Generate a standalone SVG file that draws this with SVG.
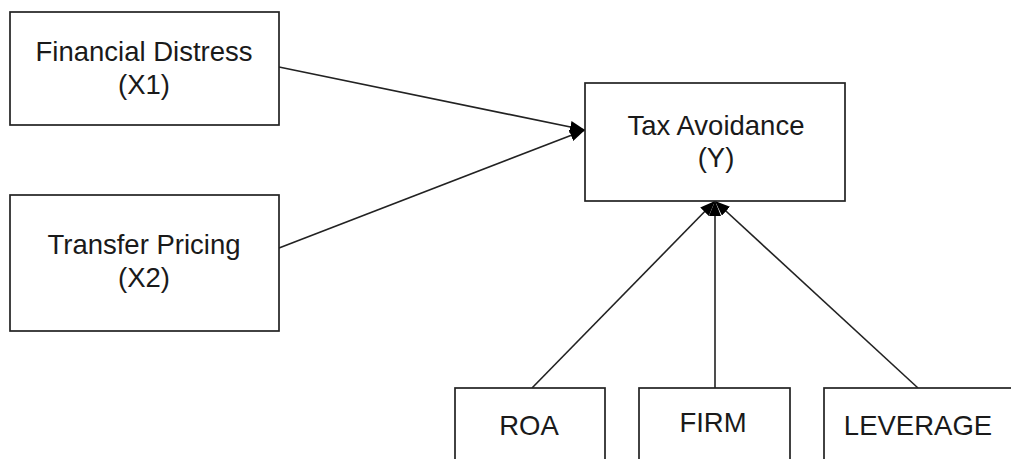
<svg xmlns="http://www.w3.org/2000/svg" width="1011" height="459" viewBox="0 0 1011 459">
<style>
.box{fill:#fff;stroke:#222;stroke-width:1.7}
.lbl{font-family:"Liberation Sans",Arial,sans-serif;font-size:27.5px;fill:#1a1a1a;text-anchor:middle}
.con{stroke:#222;stroke-width:1.6;fill:none}
</style>
<defs>
<marker id="arr" viewBox="0 0 15 12" refX="15" refY="6" markerWidth="15" markerHeight="12" markerUnits="userSpaceOnUse" orient="auto">
<path d="M0,0 L15,6 L0,12 z" fill="#000"/>
</marker>
</defs>
<rect width="1011" height="459" fill="#fff"/>
<g id="connectors">
<line class="con" x1="279" y1="67" x2="585" y2="130" marker-end="url(#arr)"/>
<line class="con" x1="279" y1="248" x2="585" y2="130" marker-end="url(#arr)"/>
<line class="con" x1="532" y1="388" x2="715" y2="201" marker-end="url(#arr)"/>
<line class="con" x1="715" y1="388" x2="715" y2="201" marker-end="url(#arr)"/>
<line class="con" x1="918" y1="388" x2="715" y2="201" marker-end="url(#arr)"/>
</g>
<g id="node-x1">
<rect class="box" x="10" y="12" width="269" height="113"/>
<text class="lbl" x="144" y="61">Financial Distress</text>
<text class="lbl" x="144" y="94">(X1)</text>
</g>
<g id="node-x2">
<rect class="box" x="10" y="195" width="269" height="136"/>
<text class="lbl" x="144" y="254">Transfer Pricing</text>
<text class="lbl" x="144" y="287">(X2)</text>
</g>
<g id="node-y">
<rect class="box" x="585" y="83" width="260" height="118"/>
<text class="lbl" x="716" y="135">Tax Avoidance</text>
<text class="lbl" x="716" y="167">(Y)</text>
</g>
<g id="node-roa">
<rect class="box" x="455" y="388" width="150" height="90"/>
<text class="lbl" x="529" y="435">ROA</text>
</g>
<g id="node-firm">
<rect class="box" x="639" y="388" width="151" height="90"/>
<text class="lbl" x="713" y="432">FIRM</text>
</g>
<g id="node-leverage">
<rect class="box" x="824" y="388" width="200" height="90"/>
<text class="lbl" x="918" y="435">LEVERAGE</text>
</g>
</svg>
